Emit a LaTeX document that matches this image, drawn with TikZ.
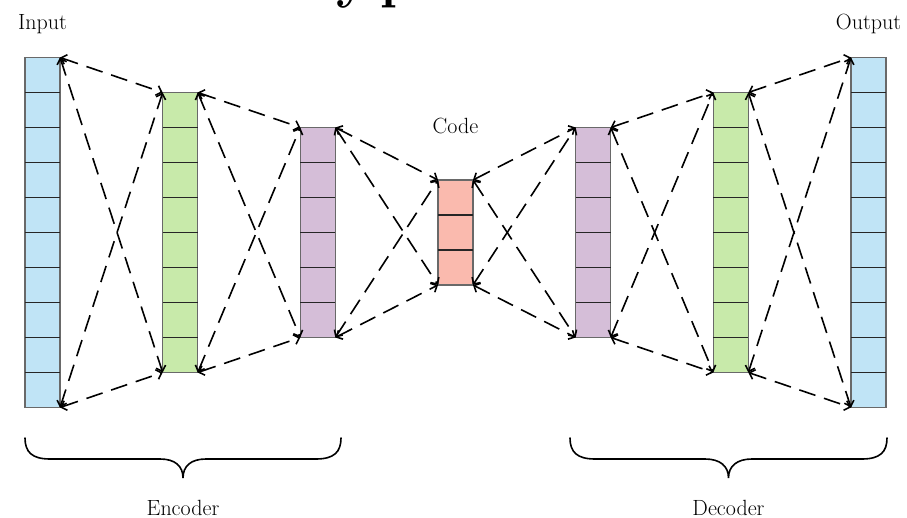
\documentclass[tikz,border=0pt]{standalone}
\usepackage{fontspec}
\usetikzlibrary{arrows.meta}
\definecolor{cblue}{RGB}{192,228,246}
\definecolor{cgreen}{RGB}{200,234,170}
\definecolor{cpurple}{RGB}{213,190,216}
\definecolor{cpink}{RGB}{250,186,174}
\definecolor{edgegray}{RGB}{105,105,105}
\newcommand\mylayer[4]{%
  \node[colbox, fill=#4, minimum height=#3*35pt] (#1) at (#2,232.5) {};
  \pgfmathtruncatemacro\nlast{#3-1}
  \foreach \k in {1,...,\nlast}{
    \draw[cellsep] ([yshift=-\k*35pt]#1.north west) -- ([yshift=-\k*35pt]#1.north east);
  }
}
\newcommand\myconnect[2]{%
  \draw[conn] (#1.north east) -- (#2.north west);
  \draw[conn] (#1.north east) -- (#2.south west);
  \draw[conn] (#1.south east) -- (#2.north west);
  \draw[conn] (#1.south east) -- (#2.south west);
}
\begin{document}
\begin{tikzpicture}[x=1pt,y=-1pt,
  colbox/.style={draw=edgegray, line width=1.1pt, minimum width=35pt, inner sep=0pt, outer sep=0pt},
  cellsep/.style={draw=black!85, line width=1.1pt},
  conn/.style={line width=1.6pt, dash pattern=on 17pt off 9pt, {Straight Barb[length=5pt,width=10pt]}-{Straight Barb[length=5pt,width=10pt]}},
  lbl/.style={font=\fontsize{22}{26}\selectfont, inner sep=0pt, anchor=base},
  bracepath/.style={line width=1.6pt, line cap=round}
]
\useasboundingbox (0,0) rectangle (907,518);

% cut-off title fragment
\node[anchor=base west, inner sep=0pt, font=\fontsize{54}{56}\selectfont\bfseries] (tty) at (336,-2) {y};
\node[anchor=base west, inner sep=0pt, font=\fontsize{54}{56}\selectfont\bfseries] (ttp) at (380,-2) {p};

% layers
\mylayer{in}{42.5}{10}{cblue}
\mylayer{ea}{180.2}{8}{cgreen}
\mylayer{eb}{317.8}{6}{cpurple}
\mylayer{code}{455.5}{3}{cpink}
\mylayer{da}{593.2}{6}{cpurple}
\mylayer{db}{730.8}{8}{cgreen}
\mylayer{out}{868.5}{10}{cblue}

% connectors
\myconnect{in}{ea}
\myconnect{ea}{eb}
\myconnect{eb}{code}
\myconnect{code}{da}
\myconnect{da}{db}
\myconnect{db}{out}

% labels
\node[lbl] (lin) at (42.5,29.5) {Input};
\node[lbl] (lout) at (868.5,29.5) {Output};
\node[lbl] (lcode) at (455.5,134) {Code};
\node[lbl] (lenc) at (183,515) {Encoder};
\node[lbl] (ldec) at (728.5,515) {Decoder};

% braces
\draw[bracepath] (25,438) .. controls (25,452) and (32,459) .. (50,459) -- (160,459)
  .. controls (175,459) and (183,466) .. (183,478)
  .. controls (183,466) and (191,459) .. (206,459) -- (316,459)
  .. controls (334,459) and (341,452) .. (341,438);
\draw[bracepath] (570,438) .. controls (570,452) and (577,459) .. (595,459) -- (705,459)
  .. controls (720,459) and (728.5,466) .. (728.5,478)
  .. controls (728.5,466) and (737,459) .. (752,459) -- (862,459)
  .. controls (880,459) and (887,452) .. (887,438);
\end{tikzpicture}
\end{document}
